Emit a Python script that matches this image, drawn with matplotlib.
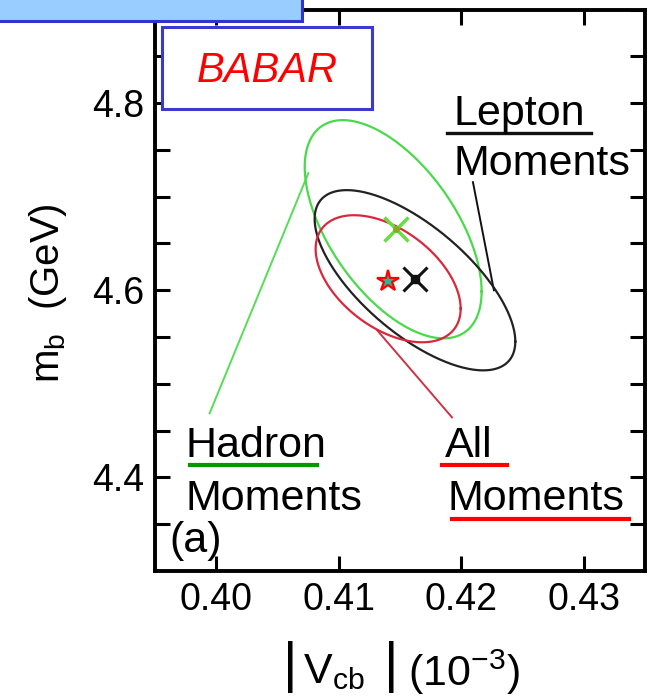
import numpy as np
import matplotlib
matplotlib.use("Agg")
import matplotlib.pyplot as plt
from matplotlib.patches import Rectangle

plt.rcParams['font.family'] = ['Liberation Sans', 'DejaVu Sans']
plt.rcParams['mathtext.fontset'] = 'custom'
plt.rcParams['mathtext.rm'] = 'Liberation Sans'
plt.rcParams['mathtext.it'] = 'Liberation Sans:italic'

# fit results: |Vcb| (1e-3 scaled), mb (GeV), 1-sigma extents and correlation
fits = ['Hadron', 'Lepton', 'All']
vcb_center = [0.41444, 0.41622, 0.41403]
mb_center = [4.6652, 4.6107, 4.6123]
vcb_halfwidth = [0.00722, 0.00819, 0.00592]
mb_halfwidth = [0.1166, 0.0963, 0.0679]
correlation = [-0.57, -0.68, -0.47]
ell_colors = ['#4ad94a', '#222222', '#d8283c']

# central values (markers)
hadron_pt = (0.41468, 4.6652)
lepton_pt = (0.41622, 4.6118)
all_pt = (0.41403, 4.6096)

fig = plt.figure(figsize=(6.53, 6.99), dpi=100)
ax = fig.add_axes([0.2374, 0.1831, 0.7504, 0.8033])

# pixel -> data helpers for annotations
def dx(px):
    return 0.40 + (px - 216.7) / 12280.0

def dy(py):
    return 4.8 - (py - 103.0) / 935.0

t = np.linspace(0, 2 * np.pi, 400)
for i in range(len(fits)):
    r = correlation[i]
    xs = vcb_center[i] + vcb_halfwidth[i] * np.cos(t)
    ys = mb_center[i] + mb_halfwidth[i] * (r * np.cos(t) + np.sqrt(1 - r * r) * np.sin(t))
    ax.plot(xs, ys, color=ell_colors[i], lw=1.6, zorder=3)

# markers
ax.plot(*hadron_pt, marker='x', ms=17, mew=2.5, color='#66dd44', zorder=5)
ax.plot(*hadron_pt, marker='o', ms=5, color='#88aa22', mew=0, zorder=6)
ax.plot(*lepton_pt, marker='x', ms=17, mew=2.2, color='#111111', zorder=5)
ax.plot(*lepton_pt, marker='s', ms=6, color='#111111', zorder=6)
ax.plot(*all_pt, marker='*', ms=16, mfc='#22bb99', mec='#ff0000', mew=1.6, zorder=6)

# leader lines
ax.plot([dx(309), dx(210)], [dy(173), dy(413)], color='#55dd55', lw=1.4, zorder=2)
ax.plot([dx(474), dx(495)], [dy(182), dy(290)], color='#111111', lw=1.4, zorder=2)
ax.plot([dx(378), dx(453)], [dy(330), dy(417)], color='#cc3344', lw=1.4, zorder=2)

# labels
fs = 31
ax.text(dx(455), dy(125), 'Lepton', fontsize=fs, va='baseline', ha='left')
ax.text(dx(455), dy(175), 'Moments', fontsize=fs, va='baseline', ha='left')
ax.plot([dx(448), dx(592)], [dy(133), dy(133)], color='#111111', lw=2.4)

ax.text(dx(186), dy(457), 'Hadron', fontsize=fs, va='baseline', ha='left')
ax.text(dx(186), dy(510), 'Moments', fontsize=fs, va='baseline', ha='left')
ax.plot([dx(190), dx(318)], [dy(465), dy(465)], color='#009900', lw=3)

ax.text(dx(446), dy(457), 'All', fontsize=fs, va='baseline', ha='left')
ax.text(dx(448), dy(510), 'Moments', fontsize=fs, va='baseline', ha='left')
ax.plot([dx(443), dx(508)], [dy(465), dy(465)], color='#ff0000', lw=3)
ax.plot([dx(453), dx(630)], [dy(519), dy(519)], color='#ff0000', lw=3)

ax.text(dx(170), dy(552), '(a)', fontsize=fs, va='baseline', ha='left')

# BABAR box
ax.add_patch(Rectangle((dx(162), dy(109)), dx(373) - dx(162), dy(27) - dy(109),
                       facecolor='white', edgecolor='#3a3acc', lw=2.2, zorder=4))
ax.text(dx(268), dy(71), 'BABAR', fontsize=30, style='italic', color='#ff0000',
        ha='center', va='center', zorder=5)

ax.set_xlim(0.395, 0.435)
ax.set_ylim(4.3, 4.9)
ax.set_xticks([0.40, 0.41, 0.42, 0.43])
ax.set_xticklabels(['0.40', '0.41', '0.42', '0.43'])
ax.set_yticks(np.arange(4.35, 4.9, 0.05), minor=True)
ax.set_yticks([4.4, 4.6, 4.8])
ax.set_yticklabels(['4.4', '4.6', '4.8'])
ax.tick_params(which='both', direction='in', top=True, right=True, length=11, width=2.2,
               labelsize=27, pad=8)
for sp in ax.spines.values():
    sp.set_linewidth(2.8)

# x axis title: |Vcb| (10^-3) with tall bars
yl = 1 - 672 / 699
fig.text(290 / 653, 1 - 667 / 699, '|', fontsize=40, ha='center', va='center')
fig.text(303 / 653, yl, r'V$_{\mathrm{cb}}$', fontsize=31, ha='left', va='center')
fig.text(391 / 653, 1 - 667 / 699, '|', fontsize=40, ha='center', va='center')
fig.text(408 / 653, yl, r'(10$^{-3}$)', fontsize=31, ha='left', va='center')

fig.text(48 / 653, 1 - 293 / 699, r'm$_{\mathrm{b}}$  (GeV)', fontsize=29,
         rotation=90, ha='center', va='center')

# cut-off title box at top left
fig.patches.append(Rectangle((-0.02, 1 - 21 / 699), 0.02 + 302 / 653, 0.05,
                             transform=fig.transFigure, facecolor='#99ccff',
                             edgecolor='#3333cc', lw=2.2, zorder=10))

fig.savefig('out.png', dpi=100)
